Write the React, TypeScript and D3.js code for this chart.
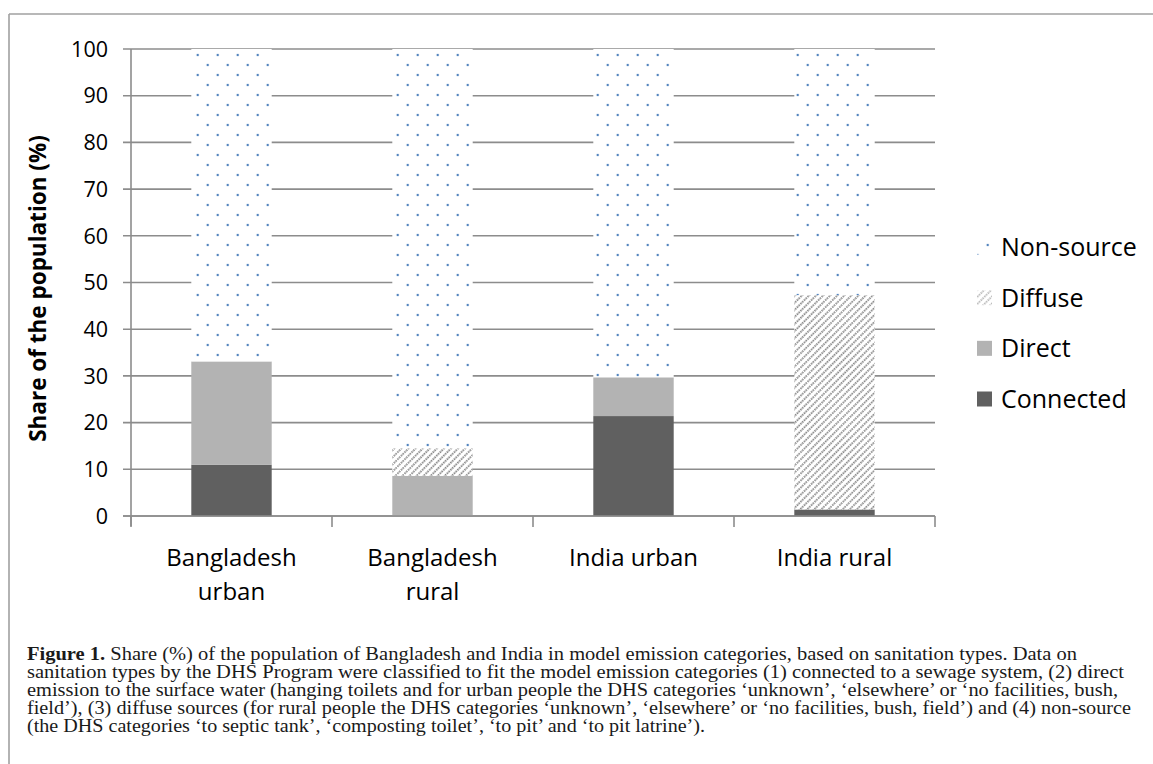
import React from "react";
import * as d3 from "d3";

const categories = ["Bangladesh urban", "Bangladesh rural", "India urban", "India rural"];
const categoryLines = [["Bangladesh", "urban"], ["Bangladesh", "rural"], ["India urban"], ["India rural"]];
const seriesNames = ["Connected", "Direct", "Diffuse", "Non-source"];
const connected = [11, 0, 21.4, 1.4];
const direct = [22.1, 8.6, 8.3, 0];
const diffuse = [0, 5.9, 0, 45.9];
const nonSource = [66.9, 85.5, 70.3, 52.7];
const yTicks = [0, 10, 20, 30, 40, 50, 60, 70, 80, 90, 100];
const legendOrder = ["Non-source", "Diffuse", "Direct", "Connected"];
const captionLines = [
  "sanitation types by the DHS Program were classified to fit the model emission categories (1) connected to a sewage system, (2) direct",
  "emission to the surface water (hanging toilets and for urban people the DHS categories \u2018unknown\u2019, \u2018elsewhere\u2019 or \u2018no facilities, bush,",
  "field\u2019), (3) diffuse sources (for rural people the DHS categories \u2018unknown\u2019, \u2018elsewhere\u2019 or \u2018no facilities, bush, field\u2019) and (4) non-source",
  "(the DHS categories \u2018to septic tank\u2019, \u2018composting toilet\u2019, \u2018to pit\u2019 and \u2018to pit latrine\u2019).",
];
const captionFirstBold = "Figure 1.";
const captionFirstRest = " Share (%) of the population of Bangladesh and India in model emission categories, based on sanitation types. Data on";

const W = 1153;
const H = 764;
const margin = { left: 131, right: 935, top: 49, bottom: 516 };
const FONT = "'Open Sans', sans-serif";
const SERIF = "'Liberation Serif', 'DejaVu Serif', serif";
const gridColor = "#8c8c8c";

export default function App() {
  const x = d3.scaleBand<string>().domain(categories).range([margin.left, margin.right]).paddingInner(0.6).paddingOuter(0.3);
  const y = d3.scaleLinear().domain([0, 100]).range([margin.bottom, margin.top]);

  const table = categories.map((c, i) => ({
    cat: c,
    Connected: connected[i],
    Direct: direct[i],
    Diffuse: diffuse[i],
    "Non-source": nonSource[i],
  }));
  const stacked = d3.stack<any>().keys(seriesNames)(table);

  const fills: Record<string, string> = {
    Connected: "#606060",
    Direct: "#b3b3b3",
    Diffuse: "url(#hatch)",
    "Non-source": "url(#dots)",
  };

  const step = x.step();
  const boundaries = d3.range(categories.length + 1).map((i) => margin.left + i * step);

  const legendY = d3.scalePoint<string>().domain(legendOrder).range([247, 399]);
  const captionY = d3.scaleLinear().domain([0, 4]).range([660, 732]);
  const captionWidths = [1097, 1091, 1104, 678];

  return (
    <svg width={W} height={H} style={{ position: "absolute", left: 0, top: 0, background: "#fff" }}>
      <defs>
        <pattern id="dots" patternUnits="userSpaceOnUse" width={20} height={20} x={7.7} y={5}>
          <rect width={20} height={20} fill="#fff" />
          <circle cx={0} cy={0} r={1.2} fill="#4f81bd" />
          <circle cx={20} cy={0} r={1.2} fill="#4f81bd" />
          <circle cx={0} cy={20} r={1.2} fill="#4f81bd" />
          <circle cx={20} cy={20} r={1.2} fill="#4f81bd" />
          <circle cx={10} cy={10} r={1.2} fill="#4f81bd" />
        </pattern>
        <pattern id="hatch" patternUnits="userSpaceOnUse" width={5} height={5} patternTransform="rotate(45)">
          <rect width={5} height={5} fill="#fff" />
          <line x1={1} y1={0} x2={1} y2={5} stroke="#5a5a5a" strokeWidth={1.4} strokeDasharray="1.6,0.9" />
        </pattern>
        <pattern id="hatchLegend" patternUnits="userSpaceOnUse" width={5} height={5} patternTransform="rotate(45)">
          <rect width={5} height={5} fill="#fff" />
          <line x1={1} y1={0} x2={1} y2={5} stroke="#9a9a9a" strokeWidth={1.3} strokeDasharray="1.6,0.9" />
        </pattern>
      </defs>

      {/* figure frame */}
      <line x1={9} y1={14} x2={W} y2={14} stroke="#a0a0a0" strokeWidth={1.6} />
      <line x1={9} y1={14} x2={9} y2={H} stroke="#a0a0a0" strokeWidth={1.6} />

      {/* gridlines */}
      {yTicks.map((t) => (
        <line key={"g" + t} x1={margin.left - 8} x2={margin.right} y1={y(t)} y2={y(t)} stroke={gridColor} strokeWidth={1.6} />
      ))}

      {/* bars */}
      {stacked.map((s) => (
        <g key={s.key}>
          {s.map((d, i) =>
            d[1] - d[0] > 0 ? (
              <rect
                key={i}
                x={x(categories[i])}
                width={x.bandwidth()}
                y={y(d[1])}
                height={y(d[0]) - y(d[1])}
                fill={fills[s.key]}
              />
            ) : null
          )}
        </g>
      ))}

      {/* axes */}
      <line x1={margin.left} x2={margin.left} y1={margin.top} y2={margin.bottom + 10} stroke={gridColor} strokeWidth={1.6} />
      <line x1={margin.left - 8} x2={margin.right} y1={margin.bottom} y2={margin.bottom} stroke={gridColor} strokeWidth={1.6} />
      {boundaries.map((b, i) => (
        <line key={"b" + i} x1={b} x2={b} y1={margin.bottom} y2={margin.bottom + 11} stroke={gridColor} strokeWidth={1.6} />
      ))}

      {/* y tick labels */}
      {yTicks.map((t) => (
        <text key={"t" + t} x={108} y={y(t)} dy="0.36em" textAnchor="end" fontFamily={FONT} fontSize={21.5} fill="#000">
          {t}
        </text>
      ))}

      {/* y title */}
      <text
        transform={`translate(46,${(margin.top + margin.bottom) / 2 + 6}) rotate(-90)`}
        textAnchor="middle"
        fontFamily={FONT}
        fontWeight="bold"
        fontSize={22.5}
        fill="#000"
      >
        Share of the population (%)
      </text>

      {/* category labels */}
      {categories.map((c, i) => (
        <text key={"c" + c} textAnchor="middle" fontFamily={FONT} fontSize={24} fill="#000">
          {categoryLines[i].map((ln, j) => (
            <tspan key={j} x={(x(c) as number) + x.bandwidth() / 2} y={566 + j * 34}>
              {ln}
            </tspan>
          ))}
        </text>
      ))}

      {/* legend */}
      {legendOrder.map((k) => {
        const cy = legendY(k) as number;
        const f = k === "Diffuse" ? "url(#hatchLegend)" : fills[k];
        return (
          <g key={"l" + k}>
            <rect x={977} y={cy - 7.5} width={15} height={15} fill={f} />
            <text x={1001} y={cy} dy="0.36em" fontFamily={FONT} fontSize={25} fill="#000">
              {k}
            </text>
          </g>
        );
      })}

      {/* caption */}
      <text x={27} y={captionY(0)} fontFamily={SERIF} fontSize={18} fill="#1a1a1a" textLength={1050} lengthAdjust="spacingAndGlyphs">
        <tspan fontWeight="bold">{captionFirstBold}</tspan>
        <tspan>{captionFirstRest}</tspan>
      </text>
      {captionLines.map((ln, i) => (
        <text
          key={"cap" + i}
          x={27}
          y={captionY(i + 1)}
          fontFamily={SERIF}
          fontSize={18}
          fill="#1a1a1a"
          textLength={captionWidths[i]}
          lengthAdjust="spacingAndGlyphs"
        >
          {ln}
        </text>
      ))}
    </svg>
  );
}
